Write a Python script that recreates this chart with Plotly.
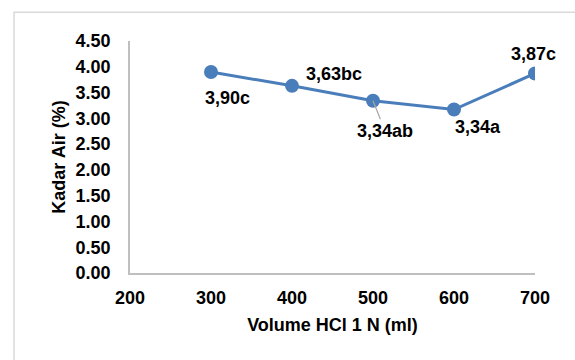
import plotly.graph_objects as go

volume = [300, 400, 500, 600, 700]
kadar_air = [3.90, 3.63, 3.34, 3.17, 3.87]
labels = ["3,90c", "3,63bc", "3,34ab", "3,34a", "3,87c"]
label_dx = [16, 42, 12, 24, -2]
label_dy = [26, -12, 30, 17, -19]

FONT = "Liberation Sans, Arial, sans-serif"
BLUE = "#4a7ebb"
FS = 18

fig = go.Figure()
fig.add_trace(go.Scatter(
    x=volume, y=kadar_air, mode="lines+markers",
    line=dict(color=BLUE, width=3),
    marker=dict(color=BLUE, size=14),
    showlegend=False, hoverinfo="skip",
))

for xv, yv, t, dx, dy in zip(volume, kadar_air, labels, label_dx, label_dy):
    if t == "3,34ab":
        fig.add_annotation(x=xv, y=yv, text="<b>%s</b>" % t, showarrow=True,
                           ax=dx, ay=dy, arrowhead=0, arrowwidth=1.2,
                           arrowcolor="#a6a6a6", standoff=0,
                           font=dict(family=FONT, size=FS, color="black"))
    else:
        fig.add_annotation(x=xv, y=yv, text="<b>%s</b>" % t, showarrow=False,
                           xshift=dx, yshift=-dy,
                           font=dict(family=FONT, size=FS, color="black"))

# chart border (right and bottom edges fall outside the picture)
fig.add_shape(type="rect", xref="paper", yref="paper",
              x0=-0.2863, x1=2.0, y0=-1.0, y1=1.1243,
              line=dict(color="#d9d9d9", width=1.5), layer="below")

fig.update_layout(
    width=575, height=360,
    margin=dict(l=129.5, r=40, t=41.4, b=86.7),
    paper_bgcolor="white", plot_bgcolor="white",
    font=dict(family=FONT, size=FS, color="black"),
    xaxis=dict(
        range=[200, 700], dtick=100, tick0=200,
        showgrid=False, zeroline=False,
        showline=True, linecolor="#bfbfbf", linewidth=1.5,
        ticks="", ticklabelstandoff=8,
        tickfont=dict(family=FONT, size=FS, color="black", weight="bold"),
        title=dict(text="<b>Volume HCl 1 N (ml)</b>", standoff=11,
                   font=dict(family=FONT, size=FS, color="black")),
    ),
    yaxis=dict(
        range=[0, 4.5], dtick=0.5, tick0=0, tickformat=".2f",
        showgrid=False, zeroline=False,
        showline=True, linecolor="#bfbfbf", linewidth=1.5,
        ticks="", ticklabelstandoff=14,
        tickfont=dict(family=FONT, size=FS, color="black", weight="bold"),
        title=dict(text="<b>Kadar Air (%)</b>", standoff=5,
                   font=dict(family=FONT, size=FS, color="black")),
    ),
)

fig.write_html("out.html")
